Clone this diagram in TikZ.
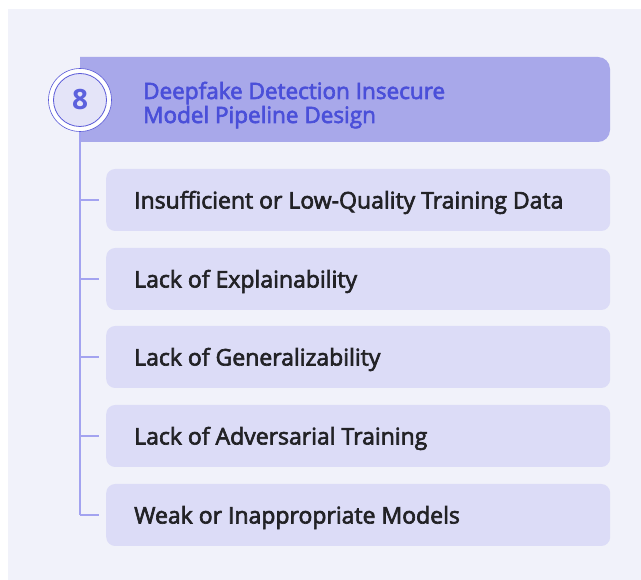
\documentclass[tikz,border=0pt]{standalone}
\usepackage{fontspec}
\setmainfont{Open Sans}
\newfontfamily\medfont{Open Sans}[FakeBold=2.8]
\begin{document}
\begin{tikzpicture}[x=1pt,y=-1pt,
  itembox/.style={fill=itemfill, draw=none, rounded corners=9pt, minimum width=504pt, minimum height=62pt, anchor=west, inner sep=0pt},
  itemtext/.style={text=itemink, font=\medfont\fontsize{23}{26}\selectfont, anchor=base west, inner sep=0pt},
  titletext/.style={text=headink, font=\medfont\fontsize{22.5}{25}\selectfont, anchor=base west, inner sep=0pt},
  branch/.style={draw=linec, line width=1.2pt},
]
\definecolor{panel}{HTML}{F1F2FA}
\definecolor{headfill}{HTML}{A8A8EA}
\definecolor{itemfill}{HTML}{DCDCF7}
\definecolor{itemink}{HTML}{222226}
\definecolor{headink}{HTML}{4A4FD9}
\definecolor{linec}{HTML}{A3A3F0}
\definecolor{ringline}{HTML}{5A5AD8}
\definecolor{discfill}{HTML}{E4E4F8}
\useasboundingbox (0,0) rectangle (641,580);
\fill[white] (0,0) rectangle (641,580);
\fill[panel] (8,9) rectangle (641,580);
% header bar, square on the left, rounded on the right
\fill[headfill] (80,57) -- (598,57) arc[start angle=-90,end angle=0,radius=12] -- (610,130) arc[start angle=0,end angle=90,radius=12] -- (80,142) -- cycle;
\node[titletext] (title1) at (143,99) {Deepfake Detection Insecure};
\node[titletext] (title2) at (143,123) {Model Pipeline Design};
% numbered badge
\node[circle, fill=white, draw=ringline, line width=0.6pt, minimum size=63pt, inner sep=0pt] (badge) at (80,100) {};
\node[circle, fill=discfill, draw=ringline, line width=0.8pt, minimum size=53pt, inner sep=0pt, text=headink!90!white, font=\fontsize{28}{32}\selectfont\bfseries] (num) at (80,100) {8};
% items
\foreach \i/\y/\t in {1/200/Insufficient or Low-Quality Training Data,
                      2/279/Lack of Explainability,
                      3/357/Lack of Generalizability,
                      4/436/Lack of Adversarial Training,
                      5/515/Weak or Inappropriate Models}{
  \node[itembox] (box\i) at (106,\y) {};
  \node[itemtext] (txt\i) at (134,\y+8.5) {\t};
  \coordinate (tick\i) at (80,\y);
  \draw[branch] (tick\i) -- (99,\y);
}
\draw[branch] (badge.south) -- (tick5);
\end{tikzpicture}
\end{document}
